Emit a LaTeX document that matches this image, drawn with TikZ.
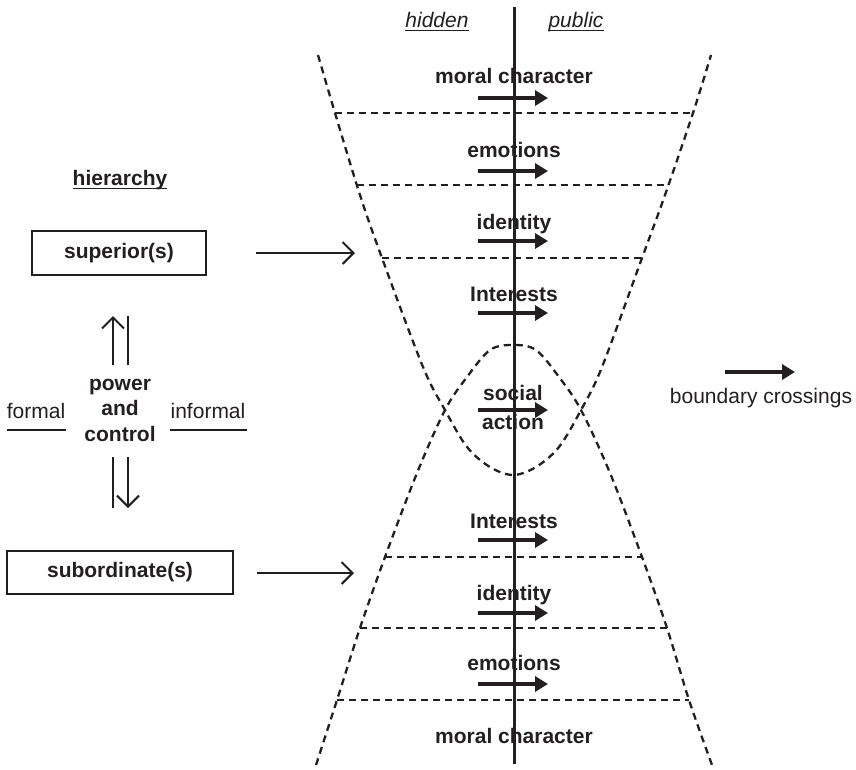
\documentclass[tikz,border=0pt]{standalone}
\usepackage{fontspec}
\setmainfont{Liberation Sans}
\usetikzlibrary{arrows.meta}
\definecolor{ink}{HTML}{231F20}
\begin{document}
\begin{tikzpicture}[x=1pt,y=-1pt,
  every node/.style={inner sep=0pt, text=ink},
  lbl/.style={font=\fontsize{21}{25.5}\selectfont\bfseries, anchor=base},
  plainlbl/.style={font=\fontsize{21}{25.5}\selectfont, anchor=base},
  itlbl/.style={font=\fontsize{21}{25.5}\selectfont\itshape, anchor=base},
  bigarrow/.style={draw=ink, line width=4.5pt, -{Triangle[length=13pt,width=15pt]}},
  thinarrow/.style={draw=ink, line width=2pt, -{Straight Barb[length=11pt,width=22pt]}},
  bound/.style={draw=ink, line width=2.3pt, dash pattern=on 7pt off 5pt},
  rulel/.style={draw=ink, line width=1.5pt},
  solidline/.style={draw=ink, line width=2pt},
  boxnode/.style={draw=ink, line width=2pt, font=\fontsize{21}{25.5}\selectfont\bfseries, anchor=center}
]
\useasboundingbox (0,0) rectangle (856,769);

% ---- funnel boundaries (dashed) ----
\draw[bound] plot[smooth, tension=0.55] coordinates {(318,55) (335,113) (360,195) (382,258) (423,367) (445,410) (467,447) (490,467) (513,475) (536,467) (559,447) (581,410) (602,367) (642,258) (665,195) (693,113) (711,55)};
\draw[bound] plot[smooth, tension=0.55] coordinates {(316,765) (337,700) (360,628) (385,557) (417,473) (445,410) (467,377) (490,350) (513,345) (536,350) (559,377) (581,410) (610,473) (642,557) (667,628) (689,700) (712,765)};

\coordinate (t1a) at (335,113); \coordinate (t1b) at (693,113);
\coordinate (t2a) at (357,185); \coordinate (t2b) at (667,185);
\coordinate (t3a) at (382,258); \coordinate (t3b) at (642,258);
\coordinate (b3a) at (385,557); \coordinate (b3b) at (642,557);
\coordinate (b2a) at (360,628); \coordinate (b2b) at (667,628);
\coordinate (b1a) at (337,700); \coordinate (b1b) at (689,700);
\draw[bound] (t1a) -- (t1b);
\draw[bound] (t2a) -- (t2b);
\draw[bound] (t3a) -- (t3b);
\draw[bound] (b3a) -- (b3b);
\draw[bound] (b2a) -- (b2b);
\draw[bound] (b1a) -- (b1b);

% ---- labels in funnel ----
\node[lbl] (mc1) at (514,83) {moral character};
\node[lbl] (em1) at (514,157) {emotions};
\node[lbl] (id1) at (514,229) {identity};
\node[lbl] (in1) at (514,301) {Interests};
\node[lbl, align=center] (sa) at (513,429) {social\\[3pt]action};
\node[lbl] (in2) at (514,528) {Interests};
\node[lbl] (id2) at (514,600) {identity};
\node[lbl] (em2) at (514,670) {emotions};
\node[lbl] (mc2) at (514,743) {moral character};

% ---- thick crossing arrows ----
\foreach \n/\y in {a/98,b/171,c/241,d/313,e/410,f/540,g/613,h/684}{
  \coordinate (xa\n) at (478,\y);
  \coordinate (xb\n) at (548,\y);
  \draw[bigarrow] (xa\n) -- (xb\n);
}

% ---- central vertical line ----
\coordinate (vtop) at (514,7);
\coordinate (vbot) at (514,764);
\draw[draw=ink, line width=3pt] (vtop) -- (vbot);

% ---- hidden / public ----
\node[itlbl] (hid) at (437,27) {hidden};
\node[itlbl] (pub) at (576,27) {public};
\draw[rulel] ([yshift=-3.5pt]hid.base west) -- ([yshift=-3.5pt]hid.base east);
\draw[rulel] ([yshift=-3.5pt]pub.base west) -- ([yshift=-3.5pt]pub.base east);

% ---- left side ----
\node[lbl] (hier) at (120,185) {hierarchy};
\draw[rulel] ([yshift=-3.5pt]hier.base west) -- ([yshift=-3.5pt]hier.base east);

\node[boxnode, minimum width=174pt, minimum height=44pt] (sup) at (119,253) {superior(s)};
\node[boxnode, minimum width=226pt, minimum height=43pt] (sub) at (120,572.5) {subordinate(s)};

\coordinate (supA) at (256,253); \coordinate (supB) at (355,253);
\coordinate (subA) at (257,573); \coordinate (subB) at (354,573);
\draw[thinarrow] (supA) -- (supB);
\draw[thinarrow] (subA) -- (subB);

\node[lbl, align=center] (pc) at (120,441) {power\\and\\control};

\coordinate (u1a) at (113,365); \coordinate (u1b) at (113,316);
\coordinate (u2a) at (128,365); \coordinate (u2b) at (128,316);
\coordinate (d1a) at (128,457); \coordinate (d1b) at (128,508);
\coordinate (d2a) at (113,457); \coordinate (d2b) at (113,508);
\draw[thinarrow] (u1a) -- (u1b);
\draw[solidline] (u2a) -- (u2b);
\draw[thinarrow] (d1a) -- (d1b);
\draw[solidline] (d2a) -- (d2b);

\node[plainlbl] (frm) at (36,418) {formal};
\node[plainlbl] (inf) at (208,418) {informal};
\coordinate (fa) at (7,430); \coordinate (fb) at (66,430);
\coordinate (ia) at (170,430); \coordinate (ib) at (247,430);
\draw[solidline] (fa) -- (fb);
\draw[solidline] (ia) -- (ib);

% ---- legend ----
\coordinate (la) at (725,372); \coordinate (lb) at (795,372);
\draw[bigarrow] (la) -- (lb);
\node[plainlbl] (leg) at (761,403) {boundary crossings};
\end{tikzpicture}
\end{document}
